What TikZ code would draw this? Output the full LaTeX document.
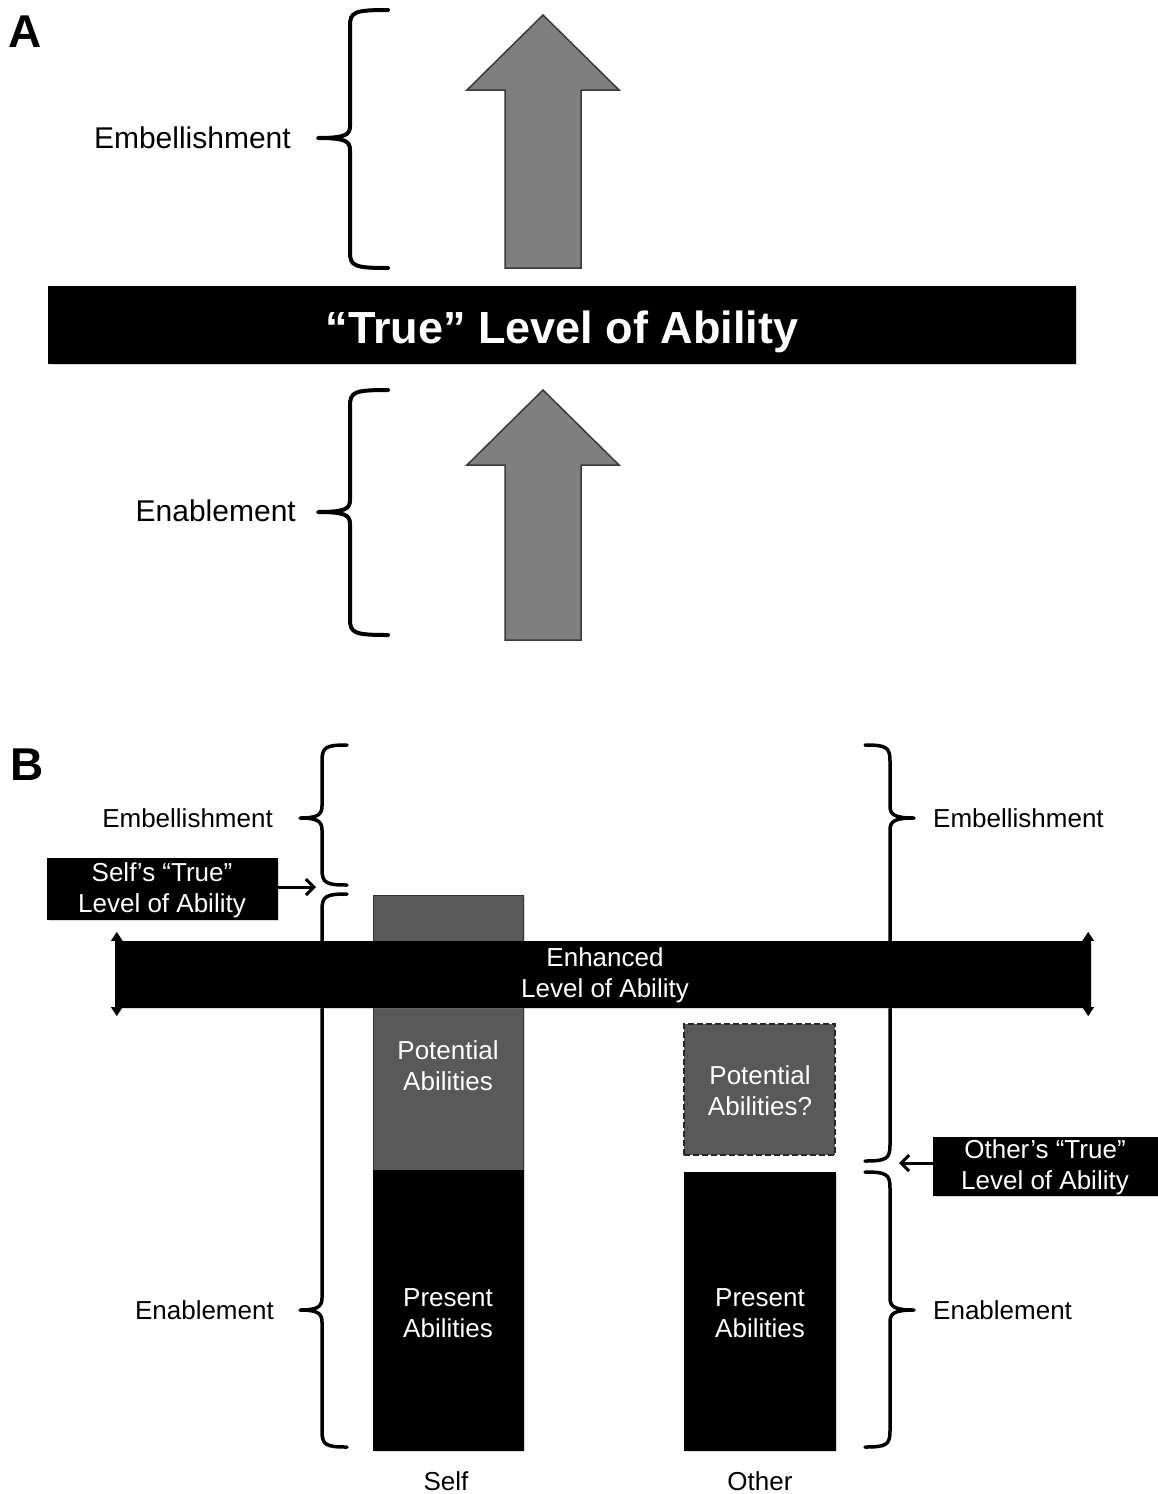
\documentclass[tikz,border=0pt]{standalone}
\usepackage{fontspec}
\setmainfont{Liberation Sans}
\usetikzlibrary{arrows.meta,shadows}
\definecolor{arrowgray}{HTML}{7F7F7F}
\definecolor{arrowedge}{HTML}{3A3A3A}
\definecolor{potgray}{HTML}{595959}
\newcommand{\BrL}[7]{% x, top, mid, bot, hook, tip, width
  \draw[line width=#7, line cap=round, line join=round]
    ({#1+#5},#2) .. controls ({#1+4},#2) and (#1,{#2+2}) .. (#1,{#2+16})
    -- (#1,{#3-12}) .. controls (#1,{#3-3}) and ({#1-5},#3) .. ({#1-#6},#3)
    .. controls ({#1-5},#3) and (#1,{#3+3}) .. (#1,{#3+12})
    -- (#1,{#4-16}) .. controls (#1,{#4-2}) and ({#1+4},#4) .. ({#1+#5},#4);}
\newcommand{\BrR}[7]{%
  \draw[line width=#7, line cap=round, line join=round]
    ({#1-#5},#2) .. controls ({#1-4},#2) and (#1,{#2+2}) .. (#1,{#2+16})
    -- (#1,{#3-12}) .. controls (#1,{#3-3}) and ({#1+5},#3) .. ({#1+#6},#3)
    .. controls ({#1+5},#3) and (#1,{#3+3}) .. (#1,{#3+12})
    -- (#1,{#4-16}) .. controls (#1,{#4-2}) and ({#1-4},#4) .. ({#1-#5},#4);}
\tikzset{
  bigarrow/.style={fill=arrowgray, draw=arrowedge, line width=1.5pt, line join=miter},
  lblA/.style={font=\fontsize{30}{36}\selectfont, inner sep=0pt},
  lblB/.style={font=\fontsize{26}{31}\selectfont, inner sep=0pt},
  wtxt/.style={text=white, font=\fontsize{26}{31}\selectfont, align=center, inner sep=0pt},
  panel/.style={font=\bfseries\fontsize{46}{50}\selectfont, inner sep=0pt},
  shad/.style={drop shadow={opacity=0.3, shadow xshift=2pt, shadow yshift=-2pt}},
  blackbox/.style={fill=black, draw=black, inner sep=0pt, shad},
  pointer/.style={line width=3pt, -{Straight Barb[length=8pt,width=16pt,line width=3pt]}},
  endarrow/.style={line width=3pt, {Triangle[length=9pt,width=11pt]}-{Triangle[length=9pt,width=11pt]}}
}
\begin{document}
\begin{tikzpicture}[x=1pt,y=-1pt]
\useasboundingbox[fill=white] (0,0) rectangle (1157,1494);

% ---------- Panel A ----------
\node[panel, anchor=base west] (pA) at (8,47) {A};
\BrL{350}{10}{138}{268}{38}{32}{4pt}
\node[lblA, anchor=base east] (embA) at (291,148) {Embellishment};
\draw[bigarrow] (505,268) -- (505,90) -- (467,90) -- (543,15) -- (619,90) -- (581,90) -- (581,268) -- cycle;

\node[blackbox, minimum width=1027pt, minimum height=77pt] (truebar) at (561.5,324.5) {};
\node[text=white, font=\bfseries\fontsize{45}{50}\selectfont, inner sep=0pt, anchor=base] (truetxt) at (562,343) {“True” Level of Ability};

\BrL{350}{390}{512}{635}{38}{32}{4pt}
\node[lblA, anchor=base east] (enA) at (296,521) {Enablement};
\draw[bigarrow] (505,640) -- (505,465) -- (467,465) -- (543,390) -- (619,465) -- (581,465) -- (581,640) -- cycle;

% ---------- Panel B ----------
\node[panel, anchor=base west] (pB) at (10,780) {B};

\BrL{322}{745}{818}{885}{25}{22}{3.5pt}
\BrL{322}{894}{1310}{1447}{25}{22}{3.5pt}
\BrR{890}{745}{818}{1161}{25}{24}{3.5pt}
\BrR{890}{1172}{1310}{1447}{25}{24}{3.5pt}

\node[lblB, anchor=base east] (embBL) at (273,827) {Embellishment};
\node[lblB, anchor=base east] (enBL) at (274,1319) {Enablement};
\node[lblB, anchor=base west] (embBR) at (933,827) {Embellishment};
\node[lblB, anchor=base west] (enBR) at (933,1319) {Enablement};

% self bars
\node[fill=potgray, draw=black!80, line width=1pt, minimum width=150pt, minimum height=275pt, inner sep=0pt, shad] (selfpot) at (448,1032.5) {};
\node[blackbox, minimum width=150pt, minimum height=280pt] (selfpres) at (448,1310) {};
% other bars
\node[fill=potgray, draw=black!85, dashed, dash pattern=on 6pt off 3pt, line width=2pt, minimum width=151pt, minimum height=131pt, inner sep=0pt] (othpot) at (759.5,1089.5) {};
\node[blackbox, minimum width=151pt, minimum height=278pt] (othpres) at (759.5,1311) {};

% enhanced bar
\node[blackbox, minimum width=975pt, minimum height=66pt] (enh) at (602.5,974) {};
\draw[endarrow] ([yshift=9pt,xshift=2pt]enh.north west) -- ([yshift=-9pt,xshift=2pt]enh.south west);
\draw[endarrow] ([yshift=9pt,xshift=-2pt]enh.north east) -- ([yshift=-9pt,xshift=-2pt]enh.south east);
\node[wtxt] (enhtxt) at (605,975) {Enhanced\\Level of Ability};

\node[wtxt] (selfpottxt) at (448,1066) {Potential\\Abilities};
\node[wtxt] (selfprestxt) at (448,1313) {Present\\Abilities};
\node[wtxt] (othpottxt) at (760,1091) {Potential\\Abilities?};
\node[wtxt] (othprestxt) at (760,1313) {Present\\Abilities};

\node[lblB] (selflbl) at (446,1481) {Self};
\node[lblB] (othlbl) at (760,1481) {Other};

% true-level boxes
\node[blackbox, minimum width=230pt, minimum height=61pt] (selfbox) at (162,888.5) {};
\node[wtxt] (selfboxtxt) at (162,890) {Self’s “True”\\Level of Ability};
\coordinate (selftip) at (316,887);
\draw[pointer] (selfbox.east |- selftip) -- (selftip);

\node[blackbox, minimum width=230pt, minimum height=58pt] (othbox) at (1048,1166) {};
\node[wtxt] (othboxtxt) at (1045,1167) {Other’s “True”\\Level of Ability};
\coordinate (othtip) at (899,1163);
\draw[pointer] (othbox.west |- othtip) -- (othtip);
\end{tikzpicture}
\end{document}
